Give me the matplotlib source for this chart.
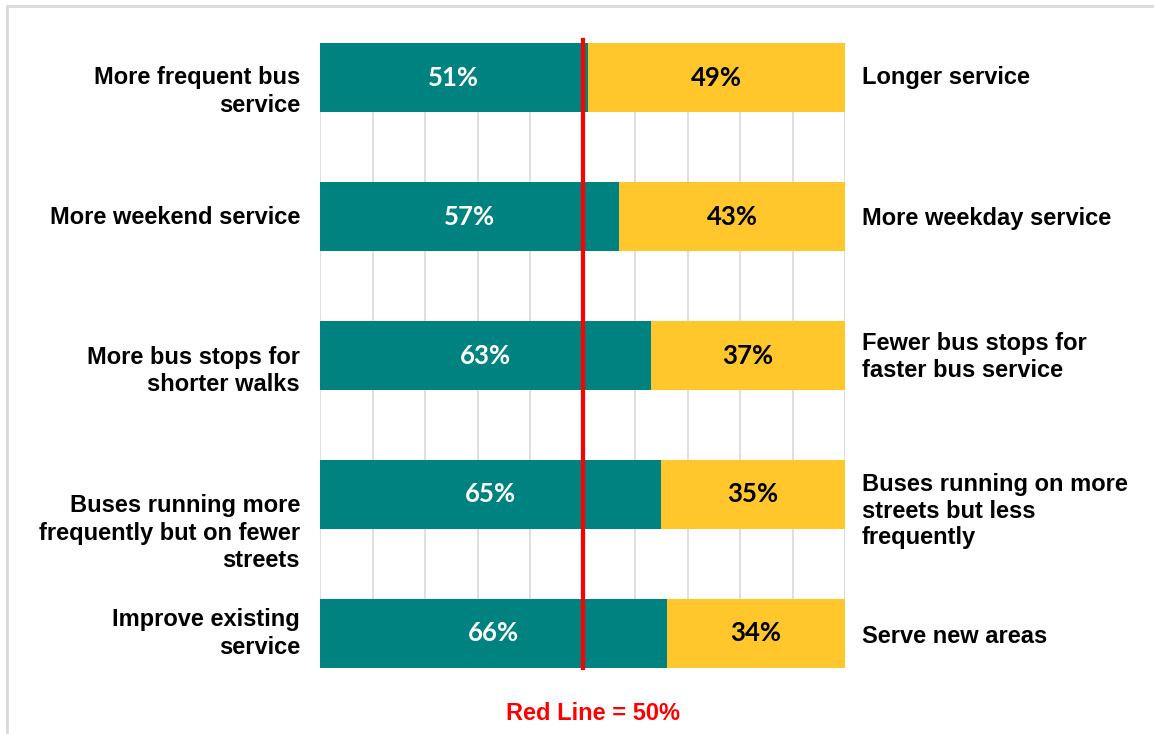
import matplotlib.pyplot as plt
from matplotlib.lines import Line2D

left_labels = ['More frequent bus\nservice', 'More weekend service',
               'More bus stops for\nshorter walks',
               'Buses running more\nfrequently but on fewer\nstreets',
               'Improve existing\nservice']
right_labels = ['Longer service', 'More weekday service',
                'Fewer bus stops for\nfaster bus service',
                'Buses running on more\nstreets but less\nfrequently',
                'Serve new areas']
left_pct = [51, 57, 63, 65, 66]
right_pct = [49, 43, 37, 35, 34]

# small vertical nudges for the side labels (in row units)
left_shift = [0.1, 0.01, 0.11, 0.28, 0.0]
right_shift = [0.0, 0.01, 0.01, 0.12, 0.02]

teal = '#008281'
yellow = '#FFC72C'

fig = plt.figure(figsize=(11.54, 7.34), dpi=100)
ax = fig.add_axes([320/1154, 1 - 668/734, 525/1154, 625/734])

rows = list(range(len(left_pct)))
ax.barh(rows, left_pct, height=0.5, color=teal, zorder=2)
ax.barh(rows, right_pct, left=left_pct, height=0.5, color=yellow, zorder=2)

for i in rows:
    ax.text(left_pct[i] / 2, i, f'{left_pct[i]}%', color='white', ha='center',
            va='center', fontsize=18.5, fontweight='bold', family='Lato', zorder=3)
    ax.text(left_pct[i] + right_pct[i] / 2, i, f'{right_pct[i]}%', color='black',
            ha='center', va='center', fontsize=18.5, fontweight='bold',
            family='Lato', zorder=3)
    ax.text(-3.8, i + left_shift[i], left_labels[i], ha='right', va='center',
            fontsize=17, fontweight='bold', family='Liberation Sans',
            linespacing=1.25)
    ax.text(103.2, i + right_shift[i], right_labels[i], ha='left', va='center',
            fontsize=17, fontweight='bold', family='Liberation Sans',
            linespacing=1.2)

ax.set_xlim(0, 100)
ax.set_ylim(4.25, -0.25)
ax.set_xticks(range(0, 101, 10))
ax.grid(axis='x', color='#d9d9d9', linewidth=1.2, zorder=0)
ax.tick_params(length=0, labelbottom=False, labelleft=False)
for s in ax.spines.values():
    s.set_visible(False)

# 50% reference line
ax.plot([50, 50], [4.25, -0.27], color='#ff0000', linewidth=3, zorder=4,
        clip_on=False)
ax.text(52, 4.58, 'Red Line = 50%', color='#ff0000', ha='center', va='center',
        fontsize=17, fontweight='bold', family='Liberation Sans')

# frame around the slide
fig.add_artist(Line2D([7/1154, 7/1154], [0, 1 - 6/734], color='#d9d9d9', lw=2))
fig.add_artist(Line2D([7/1154, 1], [1 - 6/734, 1 - 6/734], color='#d9d9d9', lw=2))

fig.savefig('out.png', dpi=100)
